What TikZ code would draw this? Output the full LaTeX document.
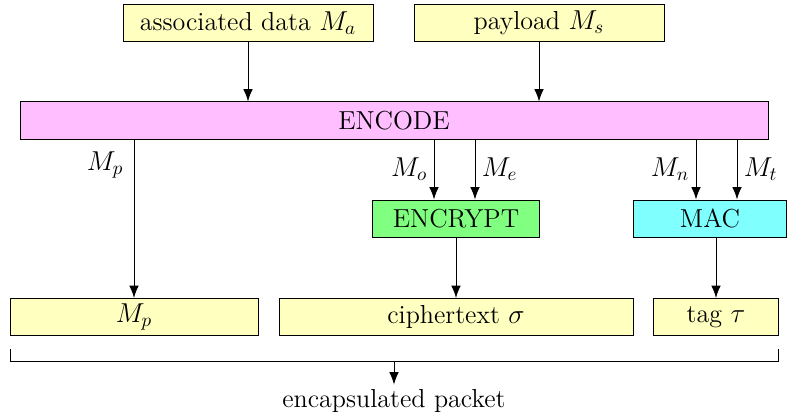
\documentclass[tikz,border=0pt]{standalone}
\usetikzlibrary{arrows.meta}
\definecolor{boxyellow}{RGB}{255,255,192}
\definecolor{boxpink}{RGB}{255,190,255}
\definecolor{boxgreen}{RGB}{128,255,128}
\definecolor{boxcyan}{RGB}{128,255,255}
\tikzset{
  box/.style={draw, minimum height=19.5pt, inner sep=2pt},
  arr/.style={-{Latex[length=6.5pt,width=5pt]}},
}
\begin{document}
\begin{tikzpicture}[x=0.5263pt,y=-0.5263pt,line width=0.5pt,
  every node/.style={font=\fontsize{13.7pt}{16pt}\selectfont}]
\useasboundingbox (0,0) rectangle (787,417);
\node[box, fill=boxyellow, minimum width=131.6pt] (ma) at (248,23) {associated data $M_a$};
\node[box, fill=boxyellow, minimum width=131.6pt] (ms) at (539,23) {payload $M_s$};
\node[box, fill=boxpink, minimum width=393.7pt] (encode) at (394,120.5) {ENCODE};
\node[box, fill=boxgreen, minimum width=87.4pt] (encrypt) at (456,218.5) {ENCRYPT};
\node[box, fill=boxcyan, minimum width=80.8pt] (mac) at (710,218.5) {MAC};
\node[box, fill=boxyellow, minimum width=130.5pt] (mp) at (134,317) {$M_p$};
\node[box, fill=boxyellow, minimum width=186.3pt] (ct) at (456,317) {ciphertext $\sigma$};
\node[box, fill=boxyellow, minimum width=65.3pt] (tag) at (716,317) {tag $\tau$};
\node (pkt) at (394,401) {encapsulated packet};

\draw[arr] (ma) -- (ma |- encode.north);
\draw[arr] (ms) -- (ms |- encode.north);
\draw[arr] (mp.north |- encode.south) -- node[pos=0.16,left=2pt] {$M_p$} (mp.north);

\coordinate (xo) at (434,0);
\coordinate (xe) at (475,0);
\coordinate (xn) at (696,0);
\coordinate (xt) at (737,0);
\draw[arr] (xo |- encode.south) -- node[left] {$M_o$} (xo |- encrypt.north);
\draw[arr] (xe |- encode.south) -- node[right] {$M_e$} (xe |- encrypt.north);
\draw[arr] (xn |- encode.south) -- node[left] {$M_n$} (xn |- mac.north);
\draw[arr] (xt |- encode.south) -- node[right] {$M_t$} (xt |- mac.north);

\draw[arr] (encrypt) -- (ct);
\draw[arr] (tag.north |- mac.south) -- (tag.north);

\coordinate (bl) at (10,349);
\coordinate (br) at (778,349);
\coordinate (bm) at (394,361);
\draw (bl) -- (bl |- bm) -- (br |- bm) -- (br);
\draw[arr] (bm) -- ([yshift=-1pt]pkt.north);
\end{tikzpicture}
\end{document}
